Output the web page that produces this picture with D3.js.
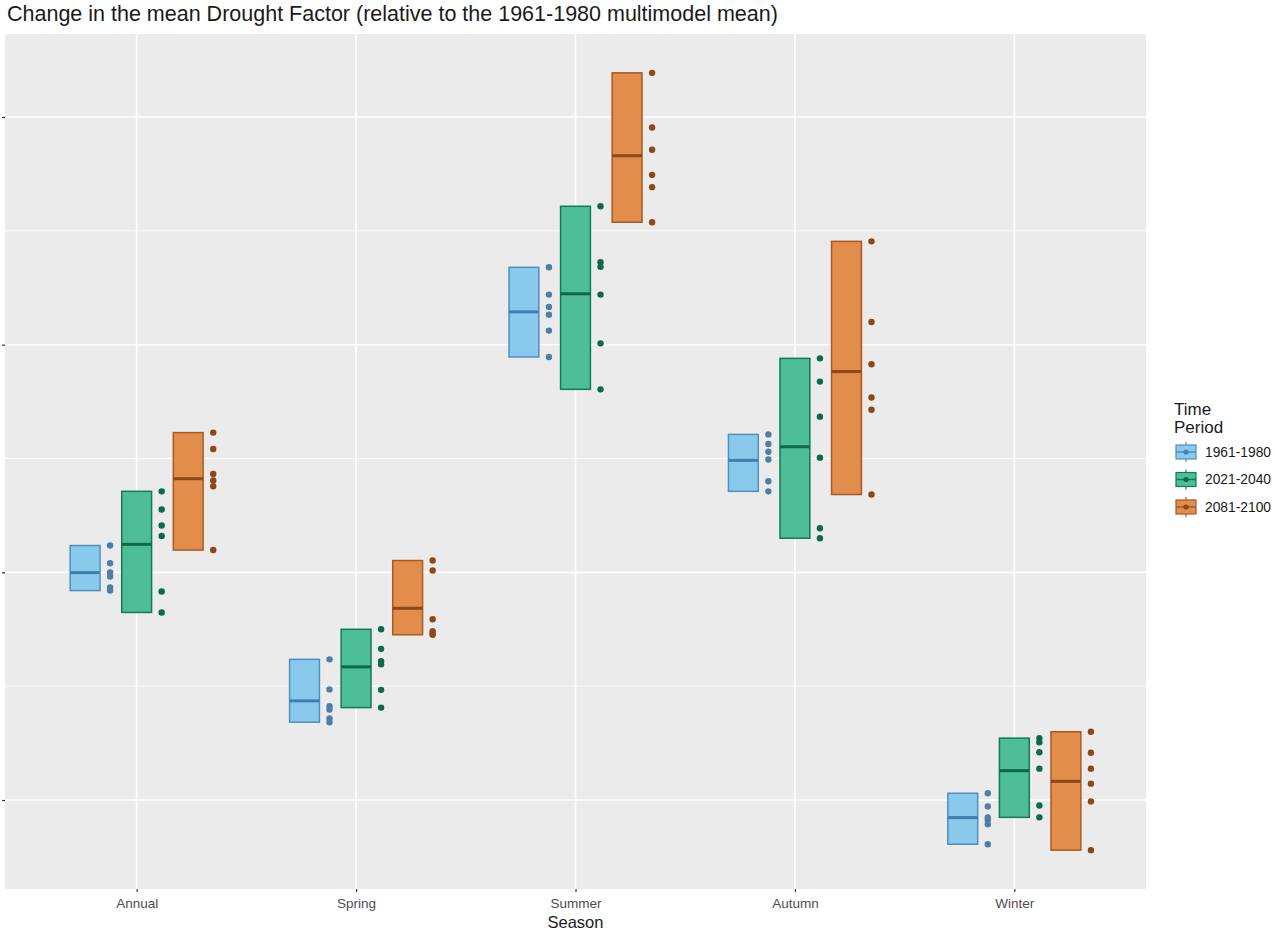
<!DOCTYPE html>
<html>
<head>
<meta charset="utf-8">
<script src="https://cdn.jsdelivr.net/npm/d3@7"></script>
<style>
  body { margin: 0; background: #ffffff; }
  svg { display: block; font-family: "Liberation Sans", Arial, Helvetica, sans-serif; }
</style>
</head>
<body>
<svg id="chart" width="1275" height="932"></svg>
<script>
// ---- Data (6 models per group) ----
const seasons = ["Annual", "Spring", "Summer", "Autumn", "Winter"];
const periods = ["1961-1980", "2021-2040", "2081-2100"];

// model values per season, for each time period
const period1961_1980 = [
  [0.059, 0.020, 0.000, -0.009, -0.033, -0.040],
  [-0.191, -0.257, -0.294, -0.301, -0.321, -0.329],
  [0.670, 0.610, 0.583, 0.566, 0.531, 0.473],
  [0.303, 0.282, 0.265, 0.248, 0.200, 0.178],
  [-0.485, -0.514, -0.538, -0.544, -0.553, -0.597]
];
const period2021_2040 = [
  [0.178, 0.138, 0.103, 0.080, -0.042, -0.088],
  [-0.125, -0.168, -0.195, -0.202, -0.258, -0.297],
  [0.804, 0.681, 0.671, 0.610, 0.503, 0.402],
  [0.470, 0.419, 0.342, 0.252, 0.097, 0.075],
  [-0.364, -0.373, -0.395, -0.431, -0.512, -0.538]
];
const period2081_2100 = [
  [0.307, 0.271, 0.216, 0.202, 0.189, 0.049],
  [0.026, 0.004, -0.103, -0.129, -0.134, -0.137],
  [1.097, 0.977, 0.928, 0.873, 0.846, 0.769],
  [0.727, 0.550, 0.457, 0.384, 0.357, 0.171],
  [-0.350, -0.396, -0.431, -0.464, -0.503, -0.610]
];
const yTicks = [-0.5, 0, 0.5, 1.0];
const yTickLabels = ["", "", "", ""];   // labels are not shown in the reference

const titleText = "Change in the mean Drought Factor (relative to the 1961-1980 multimodel mean)";
const xTitle = "Season";
const legendTitle = ["Time", "Period"];

// ---- Styles ----
const fills   = ["#88c9ec", "#4dbe98", "#e28d4c"];
const strokes = ["#4f8fbe", "#137a55", "#a85a22"];
const mids    = ["#3f7fae", "#0c6a48", "#8e4818"];
const dots    = ["#4f7ea6", "#0c6a48", "#8e4818"];

const seriesByPeriod = [period1961_1980, period2021_2040, period2081_2100];

const svg = d3.select("#chart");
const panel = { left: 5, right: 1146, top: 34, bottom: 889 };

// scales
const allVals = seriesByPeriod.flat(2);
const vmin = d3.min(allVals), vmax = d3.max(allVals), vr = vmax - vmin;
const y = d3.scaleLinear().domain([vmin - 0.05 * vr, vmax + 0.05 * vr]).range([panel.bottom, panel.top]);
const x = d3.scaleLinear().domain([0.4, seasons.length + 0.6]).range([panel.left, panel.right]);
const dodge = d3.scalePoint().domain(periods).range([-0.235, 0.235]);
const boxHalf = 0.068, dotOffset = 0.114;

// panel background
svg.append("rect").attr("x", panel.left).attr("y", panel.top)
  .attr("width", panel.right - panel.left).attr("height", panel.bottom - panel.top)
  .attr("fill", "#ebebeb");

// grid
const minor = yTicks.slice(0, -1).map((t, i) => (t + yTicks[i + 1]) / 2);
const gridG = svg.append("g");
gridG.selectAll(".ymin").data(minor).join("line")
  .attr("x1", panel.left).attr("x2", panel.right)
  .attr("y1", d => y(d)).attr("y2", d => y(d))
  .attr("stroke", "#ffffff").attr("stroke-width", 0.8);
gridG.selectAll(".ymaj").data(yTicks).join("line")
  .attr("x1", panel.left).attr("x2", panel.right)
  .attr("y1", d => y(d)).attr("y2", d => y(d))
  .attr("stroke", "#ffffff").attr("stroke-width", 1.6);
gridG.selectAll(".xmaj").data(seasons).join("line")
  .attr("x1", (d, i) => x(i + 1)).attr("x2", (d, i) => x(i + 1))
  .attr("y1", panel.top).attr("y2", panel.bottom)
  .attr("stroke", "#ffffff").attr("stroke-width", 1.6);

// axes
const yAxis = d3.axisLeft(y).tickValues(yTicks).tickSize(3).tickFormat((d, i) => yTickLabels[i]);
const yg = svg.append("g").attr("transform", `translate(${panel.left},0)`).call(yAxis);
yg.select(".domain").remove();
yg.selectAll(".tick line").attr("stroke", "#333333").attr("stroke-width", 1.2);

const xAxis = d3.axisBottom(x).tickValues(seasons.map((d, i) => i + 1)).tickSize(3)
  .tickFormat(d => seasons[d - 1]);
const xg = svg.append("g").attr("transform", `translate(0,${panel.bottom})`).call(xAxis);
xg.select(".domain").remove();
xg.selectAll(".tick line").attr("stroke", "#333333").attr("stroke-width", 1.2);
xg.selectAll(".tick text").attr("fill", "#4d4d4d").attr("font-size", "13.5px")
  .attr("dy", 0).attr("y", 19).attr("font-family", "Liberation Sans, Arial, sans-serif");

// boxes (crossbar: min..max with mean line) and points
seriesByPeriod.forEach((series, p) => {
  const g = svg.append("g");
  const stats = series.map((vals, s) => ({
    s, vals, lo: d3.min(vals), hi: d3.max(vals), mid: d3.mean(vals)
  }));
  const c = d => d.s + 1 + dodge(periods[p]);
  g.selectAll("rect.box").data(stats).join("rect")
    .attr("x", d => x(c(d) - boxHalf))
    .attr("width", d => x(c(d) + boxHalf) - x(c(d) - boxHalf))
    .attr("y", d => y(d.hi)).attr("height", d => y(d.lo) - y(d.hi))
    .attr("fill", fills[p]).attr("stroke", strokes[p]).attr("stroke-width", 1.5);
  g.selectAll("line.mid").data(stats).join("line")
    .attr("x1", d => x(c(d) - boxHalf))
    .attr("x2", d => x(c(d) + boxHalf))
    .attr("y1", d => y(d.mid)).attr("y2", d => y(d.mid))
    .attr("stroke", mids[p]).attr("stroke-width", 3);
  const pts = stats.flatMap(d => d.vals.map(v => ({ s: d.s, v })));
  g.selectAll("circle").data(pts).join("circle")
    .attr("cx", d => x(d.s + 1 + dodge(periods[p]) + dotOffset))
    .attr("cy", d => y(d.v)).attr("r", 3.2)
    .attr("fill", dots[p]);
});

// title
svg.append("text").attr("x", 7).attr("y", 21).attr("font-size", "21.5px")
  .attr("fill", "#1a1a1a").text(titleText);

// x title
svg.append("text").attr("x", (panel.left + panel.right) / 2).attr("y", 928)
  .attr("text-anchor", "middle").attr("font-size", "16.5px").attr("fill", "#1a1a1a").text(xTitle);

// legend
const lg = svg.append("g").attr("transform", "translate(1174,0)");
lg.selectAll("text.lt").data(legendTitle).join("text")
  .attr("x", 0).attr("y", (d, i) => 415 + i * 18)
  .attr("font-size", "17px").attr("fill", "#1a1a1a").text(d => d);
const keyY = d3.scalePoint().domain(periods).range([452, 507]);
periods.forEach((per, p) => {
  const cy = keyY(per);
  const k = lg.append("g");
  k.append("line").attr("x1", 12).attr("x2", 12).attr("y1", cy - 10).attr("y2", cy + 10)
    .attr("stroke", strokes[p]).attr("stroke-width", 1.2);
  k.append("rect").attr("x", 2).attr("y", cy - 7).attr("width", 20).attr("height", 14)
    .attr("fill", fills[p]).attr("stroke", strokes[p]).attr("stroke-width", 1.2);
  k.append("line").attr("x1", 2).attr("x2", 22).attr("y1", cy).attr("y2", cy)
    .attr("stroke", strokes[p]).attr("stroke-width", 1.5);
  k.append("circle").attr("cx", 12).attr("cy", cy).attr("r", 2.6).attr("fill", dots[p]);
  k.append("text").attr("x", 31).attr("y", cy + 4.5).attr("font-size", "13.8px")
    .attr("fill", "#1a1a1a").text(per);
});
</script>
</body>
</html>
